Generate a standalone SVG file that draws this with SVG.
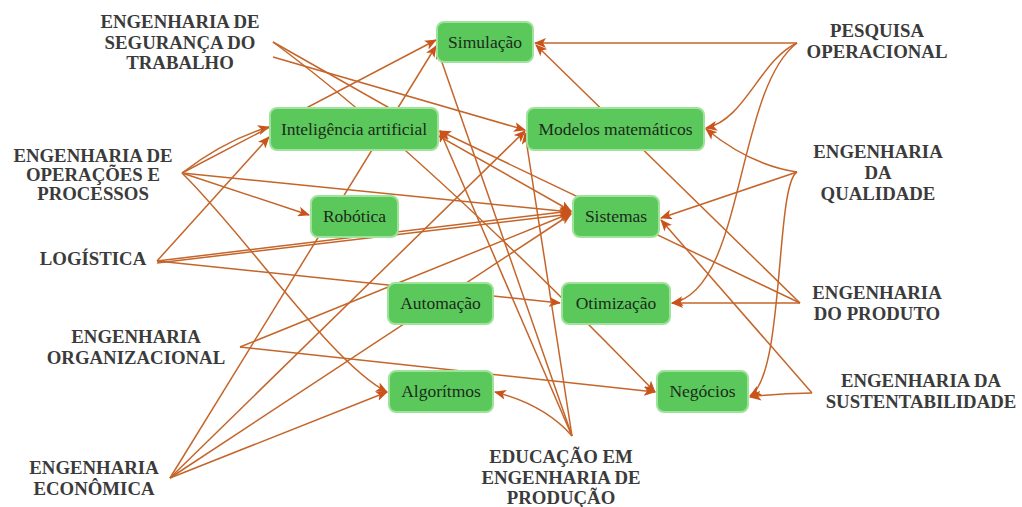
<svg xmlns="http://www.w3.org/2000/svg" width="1022" height="507" viewBox="0 0 1022 507">
  <style>
    .bg { fill: #ffffff; }
    .edge { fill: none; stroke: #c4652a; stroke-width: 1.5; marker-end: url(#ah); }
    .box { fill: #5bc85b; stroke: #9fe39b; stroke-width: 2; }
    .boxtxt { font-family: "Liberation Serif", "Times New Roman", serif; font-size: 17.5px; fill: #1c2b1c; text-anchor: middle; }
    .lbl { font-family: "Liberation Serif", "Times New Roman", serif; font-size: 18.8px; font-weight: bold; fill: #3b3b3b; text-anchor: middle; }
  </style>
  <defs>
    <marker id="ah" viewBox="0 0 12 10" refX="11" refY="5" markerWidth="12" markerHeight="10" markerUnits="userSpaceOnUse" orient="auto">
      <path d="M0,0 L12,5 L0,10 L3,5 z" fill="#c9531a"/>
    </marker>
  </defs>

  <rect class="bg" x="0" y="0" width="1022" height="507"/>

  <!-- connectors: drawn first so the boxes sit on top of them -->
  <g id="connectors">
    <!-- Engenharia de Operações e Processos -->
    <path class="edge" d="M182,173 Q225,140 269,127"/>
    <path class="edge" d="M182,173 L436,40"/>
    <path class="edge" d="M182,173 L309,215"/>
    <path class="edge" d="M182,173 L571,212"/>
    <path class="edge" d="M182,173 C250,240 330,362 387,392"/>
    <!-- Logística -->
    <path class="edge" d="M157,261 L269,137"/>
    <path class="edge" d="M157,261 L571,211"/>
    <path class="edge" d="M157,263 L571,214"/>
    <path class="edge" d="M157,261 L560,303"/>
    <!-- Engenharia de Segurança do Trabalho -->
    <path class="edge" d="M273,42 L571,211"/>
    <path class="edge" d="M273,42 Q420,150 655,392"/>
    <path class="edge" d="M273,57 L525,130"/>
    <!-- Engenharia Organizacional -->
    <path class="edge" d="M240,347 L571,213"/>
    <path class="edge" d="M240,347 L655,392"/>
    <!-- Engenharia Econômica -->
    <path class="edge" d="M170,478 L387,392"/>
    <path class="edge" d="M170,478 L571,214"/>
    <path class="edge" d="M170,478 L525,131"/>
    <path class="edge" d="M170,478 L436,46"/>
    <!-- Educação em Engenharia de Produção -->
    <path class="edge" d="M572,436 Q545,405 495,392"/>
    <path class="edge" d="M572,436 L440,131"/>
    <path class="edge" d="M572,436 L437,48"/>
    <path class="edge" d="M572,436 L525,133"/>
    <!-- Pesquisa Operacional -->
    <path class="edge" d="M797,43 L535,43"/>
    <path class="edge" d="M797,43 C760,60 745,120 706,128"/>
    <path class="edge" d="M797,43 C735,90 745,290 672,303"/>
    <!-- Engenharia da Qualidade -->
    <path class="edge" d="M797,172 Q750,165 706,129"/>
    <path class="edge" d="M797,172 L661,218"/>
    <path class="edge" d="M797,172 C775,185 785,375 750,396"/>
    <!-- Engenharia do Produto -->
    <path class="edge" d="M800,303 L672,303"/>
    <path class="edge" d="M800,303 L440,131"/>
    <path class="edge" d="M800,303 L536,45"/>
    <!-- Engenharia da Sustentabilidade -->
    <path class="edge" d="M812,393 Q780,393 750,397"/>
    <path class="edge" d="M812,393 L661,220"/>
  </g>

  <!-- central topic boxes -->
  <g id="node-simulacao"><rect class="box" x="437" y="22" width="96" height="40" rx="7"/><text class="boxtxt" x="485" y="48">Simulação</text></g>
  <g id="node-inteligencia"><rect class="box" x="270" y="108" width="168" height="42" rx="7"/><text class="boxtxt" x="354" y="135">Inteligência artificial</text></g>
  <g id="node-modelos"><rect class="box" x="527" y="108" width="177" height="42" rx="7"/><text class="boxtxt" x="615.5" y="135">Modelos matemáticos</text></g>
  <g id="node-robotica"><rect class="box" x="311" y="196" width="87" height="41" rx="7"/><text class="boxtxt" x="354.5" y="222">Robótica</text></g>
  <g id="node-sistemas"><rect class="box" x="573" y="196" width="86" height="41" rx="7"/><text class="boxtxt" x="616" y="222">Sistemas</text></g>
  <g id="node-automacao"><rect class="box" x="388" y="283" width="105" height="41" rx="7"/><text class="boxtxt" x="440.5" y="309">Automação</text></g>
  <g id="node-otimizacao"><rect class="box" x="562" y="283" width="108" height="41" rx="7"/><text class="boxtxt" x="616" y="309">Otimização</text></g>
  <g id="node-algoritmos"><rect class="box" x="389" y="371" width="104" height="41" rx="7"/><text class="boxtxt" x="441" y="397">Algorítmos</text></g>
  <g id="node-negocios"><rect class="box" x="657" y="371" width="91" height="41" rx="7"/><text class="boxtxt" x="702.5" y="397">Negócios</text></g>

  <!-- surrounding areas -->
  <g id="area-seguranca"><text class="lbl" x="180" y="28">ENGENHARIA DE</text><text class="lbl" x="180" y="49">SEGURANÇA DO</text><text class="lbl" x="180" y="69">TRABALHO</text></g>
  <g id="area-operacoes"><text class="lbl" x="93" y="162">ENGENHARIA DE</text><text class="lbl" x="93" y="181">OPERAÇÕES E</text><text class="lbl" x="93" y="200">PROCESSOS</text></g>
  <g id="area-logistica"><text class="lbl" x="93" y="265">LOGÍSTICA</text></g>
  <g id="area-organizacional"><text class="lbl" x="136" y="343">ENGENHARIA</text><text class="lbl" x="136" y="364">ORGANIZACIONAL</text></g>
  <g id="area-economica"><text class="lbl" x="94" y="474">ENGENHARIA</text><text class="lbl" x="94" y="495">ECONÔMICA</text></g>
  <g id="area-educacao"><text class="lbl" x="561" y="463">EDUCAÇÃO EM</text><text class="lbl" x="561" y="484">ENGENHARIA DE</text><text class="lbl" x="561" y="504">PRODUÇÃO</text></g>
  <g id="area-pesquisa"><text class="lbl" x="877" y="37">PESQUISA</text><text class="lbl" x="877" y="58">OPERACIONAL</text></g>
  <g id="area-qualidade"><text class="lbl" x="878" y="158">ENGENHARIA</text><text class="lbl" x="878" y="179">DA</text><text class="lbl" x="878" y="200">QUALIDADE</text></g>
  <g id="area-produto"><text class="lbl" x="877" y="299">ENGENHARIA</text><text class="lbl" x="877" y="320">DO PRODUTO</text></g>
  <g id="area-sustentabilidade"><text class="lbl" x="921" y="387">ENGENHARIA DA</text><text class="lbl" x="921" y="408">SUSTENTABILIDADE</text></g>
</svg>
